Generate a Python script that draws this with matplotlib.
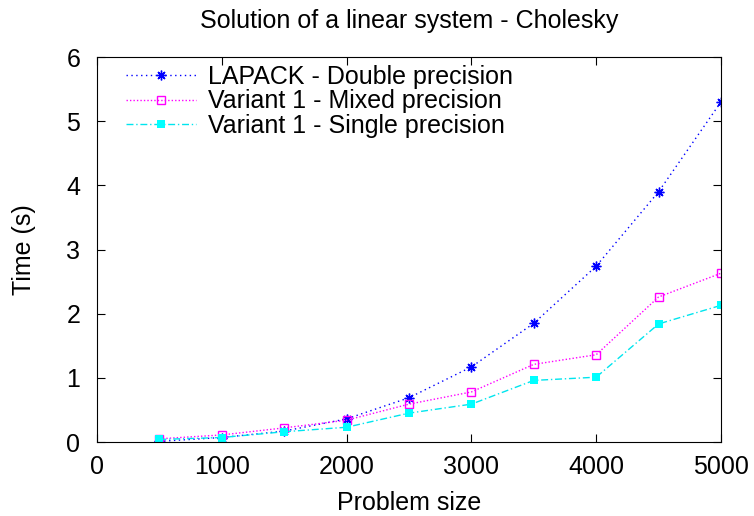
import matplotlib.pyplot as plt

plt.rcParams["font.family"] = ["Liberation Sans", "DejaVu Sans"]

sizes = [500, 1000, 1500, 2000, 2500, 3000, 3500, 4000, 4500, 5000]
lapack_double = [0.01, 0.07, 0.17, 0.36, 0.69, 1.17, 1.85, 2.74, 3.90, 5.30]
variant_mixed = [0.05, 0.11, 0.22, 0.34, 0.59, 0.78, 1.21, 1.36, 2.26, 2.63]
variant_single = [0.04, 0.07, 0.16, 0.23, 0.45, 0.59, 0.96, 1.01, 1.84, 2.13]

fs = 18

fig = plt.figure(figsize=(7.54, 5.16), dpi=100)
ax = fig.add_axes([0.1286, 0.1434, 0.8276, 0.7461])

ax.plot(sizes, lapack_double, color="#0000ff", linestyle=(0, (1, 2.5)), linewidth=1,
        marker=(8, 2, 0), markersize=7, markeredgewidth=1,
        label="LAPACK - Double precision")
ax.plot(sizes, variant_mixed, color="#ff00ff", linestyle=(0, (1, 1.5)), linewidth=1,
        marker="s", markersize=6, markerfacecolor="none", markeredgewidth=1,
        label="Variant 1 - Mixed precision")
ax.plot(sizes, variant_single, color="#00e5ee", linestyle=(0, (5, 2, 1, 2)), linewidth=1,
        marker="s", markersize=6, markerfacecolor="#00ffff", markeredgewidth=0,
        label="Variant 1 - Single precision")

ax.set_xlim(0, 5000)
ax.set_ylim(0, 6)
ax.set_xticks(range(0, 5001, 1000))
ax.set_yticks(range(0, 7))
ax.tick_params(direction="in", top=True, right=True, length=6, labelsize=fs)
ax.tick_params(axis="x", pad=9)
ax.tick_params(axis="y", pad=12)

ax.set_title("Solution of a linear system - Cholesky", fontsize=fs, pad=21)
ax.set_xlabel("Problem size", fontsize=fs, labelpad=9)
ax.set_ylabel("Time (s)", fontsize=fs, labelpad=22)

ax.legend(loc="upper left", bbox_to_anchor=(0.035, 0.999), frameon=False, fontsize=fs,
          handlelength=2.8, handletextpad=0.45, labelspacing=0.02,
          borderaxespad=0.0, borderpad=0.3)

fig.savefig("out.png", dpi=100)
